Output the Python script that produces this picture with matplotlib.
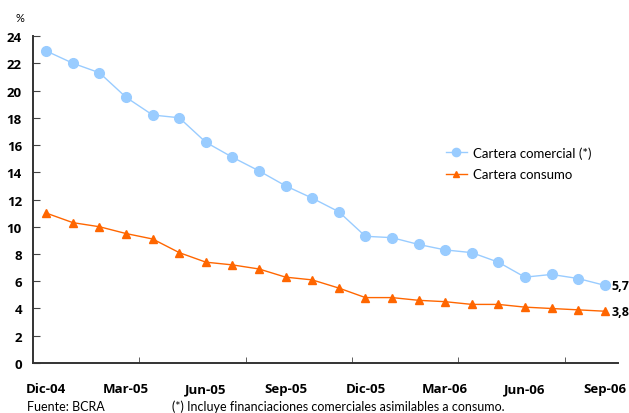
import matplotlib
matplotlib.use("Agg")
import matplotlib.pyplot as plt
import numpy as np

plt.rcParams["font.family"] = ["Lato", "DejaVu Sans"]
negrita = ["Open Sans", "DejaVu Sans"]

meses = ["Dic-04", "Ene-05", "Feb-05", "Mar-05", "Abr-05", "May-05", "Jun-05", "Jul-05",
         "Ago-05", "Sep-05", "Oct-05", "Nov-05", "Dic-05", "Ene-06", "Feb-06", "Mar-06",
         "Abr-06", "May-06", "Jun-06", "Jul-06", "Ago-06", "Sep-06"]
comercial = [22.9, 22.0, 21.3, 19.5, 18.2, 18.0, 16.2, 15.1, 14.1, 13.0, 12.1, 11.1,
             9.3, 9.2, 8.7, 8.3, 8.1, 7.4, 6.3, 6.5, 6.2, 5.7]
consumo = [11.0, 10.3, 10.0, 9.5, 9.1, 8.1, 7.4, 7.2, 6.9, 6.3, 6.1, 5.5,
           4.8, 4.8, 4.6, 4.5, 4.3, 4.3, 4.1, 4.0, 3.9, 3.8]
yticks = list(range(0, 25, 2))

azul = "#99ccff"
naranja = "#ff6600"
x = np.arange(len(meses))

fig = plt.figure(figsize=(6.29, 4.14), dpi=100)
ax = fig.add_axes([0.0525, 0.1208, 0.93, 0.7898])

ax.plot(x, comercial, color=azul, lw=1.0, marker="o", ms=7, mec=azul,
        label="Cartera comercial (*)")
ax.plot(x, consumo, color=naranja, lw=1.0, marker="^", ms=5.5, mec=naranja,
        label="Cartera consumo")

ax.set_xlim(-0.5, len(meses) - 0.5)
ax.set_ylim(0, 24)
ax.set_yticks(yticks)
ax.set_yticklabels([str(v) for v in yticks], fontweight="bold", fontsize=9.5,
                   family=negrita)

# labels every quarter, tick marks every four months between categories
ax.set_xticks(x[::3])
ax.set_xticklabels(meses[::3], fontweight="bold", fontsize=9.5, family=negrita)
ax.tick_params(axis="x", which="major", length=0, pad=14)
ax.set_xticks(np.arange(3.5, len(meses) - 1, 4), minor=True)
ax.tick_params(axis="x", which="minor", direction="in", length=4, color="#444444")
ax.tick_params(axis="y", direction="in", length=5, color="#444444", pad=8)

for s in ["top", "right"]:
    ax.spines[s].set_visible(False)
for s in ["left", "bottom"]:
    ax.spines[s].set_color("#333333")
    ax.spines[s].set_linewidth(1.4)

for serie in (comercial, consumo):
    ax.text(len(meses) - 0.75, serie[-1], f"{serie[-1]:.1f}".replace(".", ","),
            fontweight="bold", fontsize=9, va="center", ha="left", family=negrita)

ax.legend(loc="upper left", bbox_to_anchor=(0.685, 0.70), frameon=False, fontsize=9.5,
          handlelength=1.6, labelspacing=0.75, handletextpad=0.5, markerscale=0.85)

fig.text(20 / 629, 1 - 18 / 414, "%", fontsize=8, ha="center", va="center")
fig.text(27 / 629, 1 - 407 / 414, "Fuente: BCRA", fontsize=9, va="center")
fig.text(172 / 629, 1 - 407 / 414,
         "(*) Incluye financiaciones comerciales asimilables a consumo.",
         fontsize=9, va="center")

fig.savefig("out.png", dpi=100)
